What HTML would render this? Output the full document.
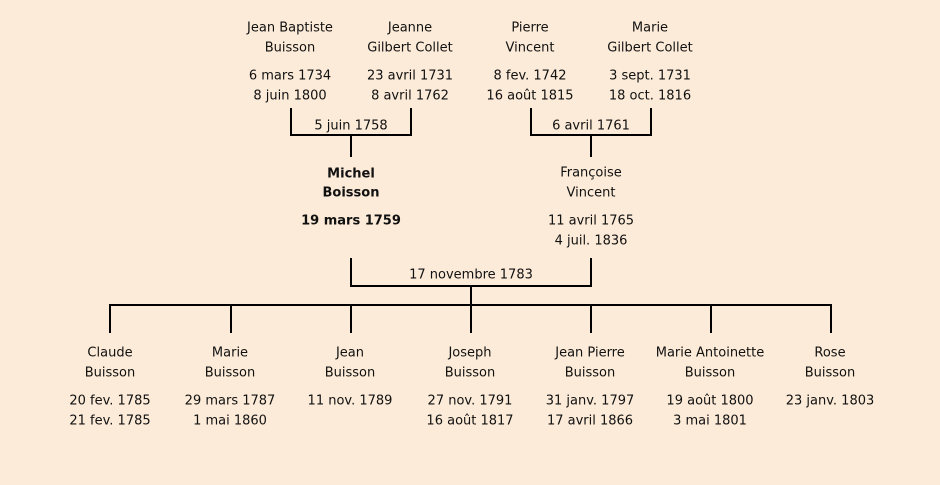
<!DOCTYPE html>
<html><head><meta charset="utf-8"><style>
html,body{margin:0;padding:0;background:#fcebd8;}
svg{display:block;}
text{font-family:"DejaVu Sans","Liberation Sans",sans-serif;font-size:13px;fill:#111;text-anchor:middle;dominant-baseline:middle;}
.b{font-weight:bold;}
</style></head><body>
<svg width="940" height="485" viewBox="0 0 940 485">
<rect width="940" height="485" fill="#fcebd8"/>
<g stroke="#000" stroke-width="2" fill="none">
<path d="M291 108V135H411V108M351 135V157"/>
<path d="M531 108V135H651V108M591 135V157"/>
<path d="M351 258V286H591V258M471 286V305"/>
<path d="M110 333V305H831V333M231 305V333M351 305V333M471 305V333M591 305V333M711 305V333"/>
</g>
<text x="290" y="28">Jean Baptiste</text><text x="290" y="48">Buisson</text><text x="290" y="76">6 mars 1734</text><text x="290" y="96">8 juin 1800</text>
<text x="410" y="28">Jeanne</text><text x="410" y="48">Gilbert Collet</text><text x="410" y="76">23 avril 1731</text><text x="410" y="96">8 avril 1762</text>
<text x="530" y="28">Pierre</text><text x="530" y="48">Vincent</text><text x="530" y="76">8 fev. 1742</text><text x="530" y="96">16 août 1815</text>
<text x="650" y="28">Marie</text><text x="650" y="48">Gilbert Collet</text><text x="650" y="76">3 sept. 1731</text><text x="650" y="96">18 oct. 1816</text>
<text x="351" y="126">5 juin 1758</text><text x="591" y="126">6 avril 1761</text>
<text class="b" x="351" y="174">Michel</text><text class="b" x="351" y="193">Boisson</text><text class="b" x="351" y="221">19 mars 1759</text>
<text x="591" y="173">Françoise</text><text x="591" y="193">Vincent</text><text x="591" y="221">11 avril 1765</text><text x="591" y="241">4 juil. 1836</text>
<text x="471" y="275">17 novembre 1783</text>
<text x="110" y="353">Claude</text><text x="110" y="373">Buisson</text><text x="110" y="401">20 fev. 1785</text><text x="110" y="421">21 fev. 1785</text>
<text x="230" y="353">Marie</text><text x="230" y="373">Buisson</text><text x="230" y="401">29 mars 1787</text><text x="230" y="421">1 mai 1860</text>
<text x="350" y="353">Jean</text><text x="350" y="373">Buisson</text><text x="350" y="401">11 nov. 1789</text>
<text x="470" y="353">Joseph</text><text x="470" y="373">Buisson</text><text x="470" y="401">27 nov. 1791</text><text x="470" y="421">16 août 1817</text>
<text x="590" y="353">Jean Pierre</text><text x="590" y="373">Buisson</text><text x="590" y="401">31 janv. 1797</text><text x="590" y="421">17 avril 1866</text>
<text x="710" y="353">Marie Antoinette</text><text x="710" y="373">Buisson</text><text x="710" y="401">19 août 1800</text><text x="710" y="421">3 mai 1801</text>
<text x="830" y="353">Rose</text><text x="830" y="373">Buisson</text><text x="830" y="401">23 janv. 1803</text>
</svg>
</body></html>
